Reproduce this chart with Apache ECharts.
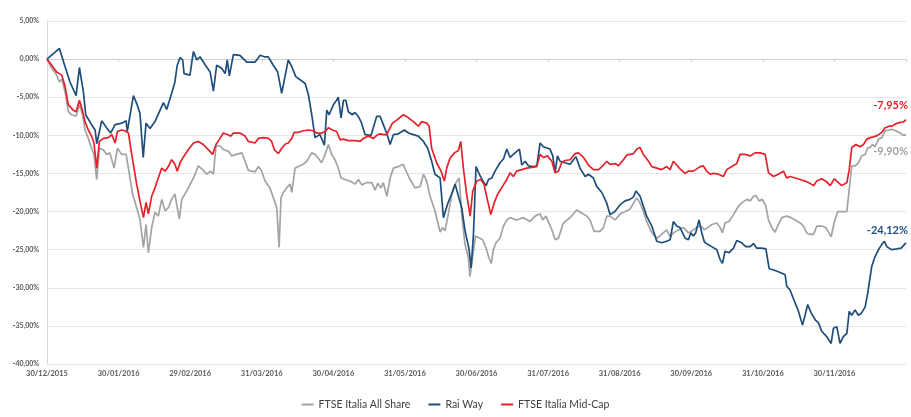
<!DOCTYPE html>
<html>
<head>
<meta charset="utf-8">
<script src="https://cdn.jsdelivr.net/npm/echarts@6/dist/echarts.min.js"></script>
<style>html,body{margin:0;padding:0;background:#fff}#c{width:911px;height:417px}</style>
</head>
<body>
<div id="c"></div>
<script>
// x = days since 30/12/2015, y = cumulative performance in %
const tickLabels = ['30/12/2015','30/01/2016','29/02/2016','31/03/2016','30/04/2016','31/05/2016','30/06/2016','31/07/2016','31/08/2016','30/09/2016','31/10/2016','30/11/2016'];
const seriesNames = ['FTSE Italia All Share','Rai Way','FTSE Italia Mid-Cap'];

const allShareDays = [0,2.0,4.1,5.3,6.3,7.7,9.1,10.5,12.4,13.8,15.2,16.2,17.6,19.0,20.0,21.2,22.3,24.0,25.4,26.8,28.6,30.0,31.8,33.7,35.1,36.5,38.2,39.6,41.1,42.2,43.2,44.6,46.0,47.4,48.9,50.3,51.7,53.1,54.5,55.5,56.4,57.4,58.8,60.2,62.4,64.5,66.3,68.0,69.7,70.9,72.0,73.7,75.4,77.3,78.7,80.8,83.0,84.4,85.8,88.6,90.1,91.5,92.9,95.0,96.9,97.9,98.9,99.7,100.7,102.1,103.6,104.3,105.7,107.1,109.2,110.7,112.8,114.2,115.6,117.0,118.5,119.9,121.3,122.7,124.1,125.3,127.0,129.1,131.3,132.7,134.1,136.2,138.4,139.8,140.9,142.3,143.3,144.8,146.2,147.6,149.7,151.8,153.3,154.7,156.8,159.0,160.4,161.8,163.2,165.3,166.5,167.5,168.5,169.6,171.0,172.4,173.9,175.6,176.7,178.1,179.5,180.2,182.6,185.6,187.1,188.1,189.3,190.2,191.3,193.0,194.5,195.9,197.3,200.1,203.0,205.8,208.0,210.1,211.2,212.6,215.1,216.5,217.9,220.0,222.9,225.7,227.8,230.0,231.4,233.1,235.6,237.1,238.5,239.9,242.1,244.2,246.3,248.4,249.9,251.3,252.7,254.1,255.5,257.7,259.8,261.9,264.0,265.5,266.9,269.0,271.2,273.3,275.4,276.8,278.7,280.1,281.5,283.2,285.4,286.8,287.8,288.9,290.6,292.5,294.6,296.3,298.2,299.6,301.0,302.0,303.4,304.8,306.3,307.4,308.8,310.2,311.6,313.1,315.2,317.0,318.8,320.9,322.3,323.7,325.1,326.6,328.0,330.1,331.8,333.2,334.1,335.5,336.9,338.6,340.8,341.8,342.9,344.3,345.7,347.1,348.6,349.7,350.7,351.7,352.8,354.3,355.7,357.1,358.8,359.9,361.6,363.5,364.9,366];
const allShareVals = [0,-1.2,-2.1,-3.0,-2.6,-4.3,-6.9,-7.3,-7.5,-6.0,-7.3,-9.3,-10.4,-11.7,-12.5,-15.8,-11.7,-11.9,-12.5,-12.3,-14.3,-11.7,-12.5,-12.5,-15.1,-17.7,-19.5,-21.0,-24.7,-21.7,-25.4,-22.1,-20.1,-20.6,-18.4,-19.9,-19.5,-18.4,-17.7,-19.5,-21.0,-18.4,-17.7,-16.9,-15.6,-14.0,-14.5,-15.1,-14.7,-15.1,-11.4,-11.4,-11.9,-12.1,-12.7,-12.5,-12.3,-13.4,-14.6,-14.8,-14.1,-14.7,-16.0,-16.9,-18.6,-19.5,-24.7,-18.2,-17.5,-16.9,-16.4,-17.5,-14.3,-14.1,-13.8,-13.4,-12.3,-12.5,-13.0,-13.6,-12.5,-11.2,-12.5,-13.2,-14.3,-15.6,-15.8,-16.0,-16.4,-15.8,-16.5,-16.2,-16.2,-17.2,-16.3,-16.9,-16.2,-18.0,-15.6,-14.3,-14.1,-13.8,-14.9,-15.8,-16.9,-16.7,-15.1,-16.0,-18.0,-19.9,-21.4,-22.7,-22.1,-22.5,-20.3,-17.9,-16.4,-15.6,-20.3,-24.3,-26.0,-28.5,-23.2,-23.7,-24.8,-25.9,-26.8,-25.0,-24.1,-23.5,-21.9,-21.1,-20.8,-21.1,-20.8,-21.3,-20.6,-20.3,-21.1,-20.6,-22.4,-23.7,-23.5,-21.5,-20.8,-19.8,-20.2,-20.6,-21.1,-22.6,-22.6,-22.1,-20.6,-20.6,-21.1,-20.3,-20.0,-19.7,-18.9,-18.2,-18.9,-20.0,-21.3,-22.8,-23.5,-23.0,-22.4,-23.3,-22.8,-22.4,-22.1,-22.8,-22.4,-22.1,-21.9,-22.4,-22.1,-21.7,-21.5,-22.1,-22.8,-21.5,-21.3,-20.4,-19.3,-18.8,-18.4,-18.6,-18.0,-17.9,-18.6,-18.4,-19.3,-21.1,-22.1,-22.7,-21.7,-20.8,-20.6,-20.8,-21.1,-21.5,-21.9,-22.8,-23.0,-23.0,-21.9,-21.9,-22.1,-22.8,-23.3,-21.3,-20.0,-20.0,-20.0,-17.1,-14.0,-14.0,-13.6,-12.7,-12.5,-11.6,-11.6,-11.2,-11.5,-10.5,-10.3,-9.4,-9.3,-9.2,-9.4,-9.7,-10.0,-9.90];

const raiWayDays = [0,5.3,7.7,9.8,12.4,13.8,15.5,16.5,19.0,20.5,21.2,23.3,25.4,27.1,29.0,31.8,33.7,34.2,36.8,38.2,39.6,41.0,42.2,43.9,46.0,47.9,49.6,51.0,53.1,54.5,55.5,56.7,57.8,58.4,60.9,62.4,63.8,65.2,67.3,69.5,70.9,72.3,74.4,75.9,76.8,77.7,79.4,82.2,85.1,88.6,90.8,92.6,94.3,96.4,98.3,100.0,102.8,104.3,106.0,107.8,110.0,111.4,112.8,114.2,116.3,118.2,119.2,120.2,122.0,123.4,124.1,125.3,126.3,127.3,128.4,130.1,131.2,132.6,133.8,135.5,138.1,139.8,140.5,141.9,143.3,144.7,146.2,147.6,149.7,152.3,154.0,156.1,158.2,160.4,162.2,163.9,165.3,167.5,168.9,170.7,172.4,173.9,175.3,176.7,178.1,179.8,180.7,181.7,182.8,184.2,185.7,187.1,188.1,189.5,190.9,193.0,194.5,195.9,197.3,199.4,201.3,202.3,203.7,205.1,207.2,208.7,210.1,211.5,214.3,215.5,216.5,217.5,218.6,220.7,222.9,224.3,225.4,227.1,229.3,230.7,232.8,234.2,236.4,238.5,239.9,242.0,244.2,246.3,248.4,249.8,251.0,252.7,254.1,255.5,257.7,259.8,261.9,264.0,265.5,266.9,268.3,269.7,271.9,273.3,274.3,275.4,276.4,277.8,279.0,280.1,281.5,283.2,285.4,286.8,287.8,288.9,290.6,292.5,293.9,296.0,297.7,299.6,301.0,302.4,304.5,306.3,307.7,309.9,311.6,313.1,314.5,315.2,316.6,318.0,320.2,321.9,323.0,324.1,325.6,327.3,328.7,330.1,332.2,334.1,335.1,336.5,337.9,339.3,340.8,341.8,342.9,344.3,345.7,347.1,348.6,349.7,351.4,352.8,354.3,355.7,356.8,357.8,358.8,359.9,362.1,363.9,366];
const raiWayVals = [0,1.4,-1.0,-3.0,-4.8,-1.1,-4.3,-7.3,-8.6,-9.3,-11.1,-8.1,-9.0,-9.7,-8.6,-8.4,-8.1,-9.5,-4.8,-5.8,-7.1,-12.9,-8.4,-9.1,-8.2,-6.9,-5.7,-6.6,-4.5,-3.0,-0.8,0.2,-0.1,-1.9,-2.1,1.0,-0.1,0.3,-0.7,-1.7,-4.2,-0.8,-1.2,-1.9,-0.1,-2.2,0.6,0.5,-0.4,-0.4,0.5,0.3,0.3,-0.8,-1.7,-4.5,-0.1,-1.0,-2.3,-2.7,-3.2,-4.7,-7.3,-10.3,-9.9,-11.3,-6.7,-7.3,-6.0,-5.4,-5.0,-7.7,-5.4,-5.4,-6.9,-7.3,-7.0,-7.5,-8.2,-9.9,-10.0,-8.2,-7.5,-7.5,-8.6,-9.7,-11.2,-9.9,-9.8,-9.3,-9.7,-9.9,-10.1,-10.8,-11.7,-13.4,-15.1,-15.6,-20.8,-19.0,-17.7,-16.4,-18.0,-19.5,-22.5,-24.9,-27.4,-23.0,-14.1,-15.1,-16.0,-16.6,-15.8,-15.6,-14.7,-13.6,-13.1,-11.8,-12.9,-12.3,-11.8,-13.9,-13.4,-14.0,-14.1,-14.0,-11.0,-11.5,-11.8,-12.7,-14.9,-12.7,-13.4,-13.6,-13.8,-13.2,-12.8,-14.3,-15.4,-15.1,-15.6,-16.7,-17.5,-18.9,-20.4,-20.0,-19.1,-18.6,-18.4,-18.1,-17.3,-18.0,-19.3,-20.6,-21.9,-23.9,-24.1,-23.9,-23.7,-21.3,-21.9,-22.1,-23.5,-23.7,-22.8,-23.2,-22.8,-21.1,-22.8,-24.0,-24.3,-24.6,-25.0,-26.3,-26.8,-25.2,-25.4,-24.8,-23.8,-24.1,-24.6,-24.6,-24.2,-24.8,-24.8,-24.9,-27.5,-27.7,-27.9,-28.1,-28.3,-29.8,-30.3,-31.4,-33.1,-34.9,-33.6,-32.2,-33.3,-34.2,-34.6,-35.7,-36.4,-37.3,-35.3,-35.1,-37.3,-36.4,-36.0,-33.1,-33.6,-32.9,-33.6,-33.3,-32.5,-30.7,-27.2,-25.9,-25.0,-24.3,-23.9,-24.6,-24.8,-25.0,-24.9,-24.8,-24.12];

const midCapDays = [0,2.0,4.1,6.3,7.7,9.1,11.2,12.4,13.8,14.8,16.2,17.6,19.0,20.0,21.2,22.3,24.0,26.1,27.6,29.0,30.0,31.8,33.2,34.7,36.1,38.2,39.6,41.1,42.2,43.2,44.6,46.0,47.4,48.9,50.3,51.7,53.1,54.5,55.5,56.7,58.4,60.2,62.4,64.5,66.6,68.8,70.6,72.0,73.7,75.1,76.8,78.3,79.4,82.2,84.4,85.8,88.6,90.1,92.2,94.3,95.7,96.9,98.6,100.0,101.7,102.8,104.3,105.4,107.1,109.2,111.4,113.5,114.9,117.0,118.5,119.9,121.6,123.4,124.9,126.3,128.4,131.3,133.4,134.8,136.9,139.1,140.5,141.9,143.3,144.7,145.7,147.2,149.0,151.8,154.0,156.1,158.2,159.7,161.8,162.8,163.9,166.0,167.9,169.3,170.3,171.7,173.6,175.3,176.3,177.4,178.8,180.3,181.4,183.1,184.8,186.2,187.6,189.1,190.5,191.9,193.7,195.9,197.3,198.7,200.1,202.3,204.4,206.5,208.7,210.1,211.5,213.2,215.1,216.5,217.9,219.3,220.7,222.9,225.0,226.4,228.6,230.7,232.8,235.0,237.1,238.5,239.9,242.1,243.5,245.6,247.0,249.9,251.3,252.7,254.1,256.3,257.7,259.8,261.9,264.0,265.5,266.9,268.3,269.7,271.9,273.3,275.4,276.1,278.3,279.6,281.1,282.5,283.9,286.1,288.2,289.6,291.8,293.9,295.3,297.4,299.6,301.7,303.8,306.0,307.4,309.5,311.6,313.8,315.2,316.6,318.8,320.9,323.0,325.1,326.6,328.0,330.1,332.2,333.7,335.5,337.2,338.6,340.8,341.8,342.9,344.6,346.4,347.9,349.3,350.7,352.1,353.9,355.7,357.1,358.8,359.9,361.6,363.5,364.9,366];
const midCapVals = [0,-0.8,-1.7,-2.1,-3.6,-6.0,-6.7,-6.9,-5.4,-6.4,-8.2,-9.3,-10.1,-11.0,-14.3,-10.8,-10.4,-10.3,-9.9,-11.0,-9.5,-9.3,-9.4,-9.7,-12.5,-16.4,-18.6,-20.8,-18.8,-20.3,-18.0,-16.9,-15.6,-14.3,-14.7,-14.1,-13.2,-13.8,-14.7,-13.6,-12.7,-11.9,-11.0,-10.8,-11.2,-11.9,-12.5,-11.2,-10.4,-9.7,-9.9,-10.1,-9.7,-9.7,-10.1,-10.8,-11.0,-10.4,-10.3,-10.4,-10.8,-11.9,-12.4,-11.7,-11.1,-11.0,-10.4,-9.6,-9.6,-9.4,-9.3,-9.4,-9.7,-9.7,-9.5,-9.0,-9.3,-9.5,-10.6,-10.5,-10.7,-10.7,-10.8,-10.4,-10.1,-10.4,-10.0,-9.8,-9.9,-9.9,-9.3,-8.4,-8.0,-7.3,-7.7,-8.2,-8.8,-8.2,-8.4,-8.8,-11.7,-13.6,-14.7,-16.0,-14.3,-13.0,-12.3,-12.0,-10.8,-14.3,-17.7,-20.6,-17.3,-16.0,-15.8,-16.4,-18.4,-20.4,-18.9,-17.8,-16.9,-15.8,-14.9,-15.4,-14.7,-14.5,-14.3,-14.2,-14.1,-12.5,-12.9,-12.7,-13.4,-14.9,-14.7,-13.6,-13.3,-13.2,-12.4,-12.3,-12.9,-13.9,-14.5,-14.5,-13.9,-13.4,-13.8,-13.7,-14.0,-13.2,-12.6,-12.4,-11.8,-11.6,-12.5,-13.4,-14.1,-14.3,-14.5,-14.1,-14.5,-13.4,-13.9,-14.4,-15.0,-14.7,-14.7,-14.5,-14.1,-14.0,-14.7,-15.1,-15.0,-15.1,-15.4,-14.5,-14.1,-13.7,-12.5,-12.5,-12.7,-12.3,-12.3,-12.5,-14.9,-15.4,-15.1,-14.7,-15.6,-15.4,-15.6,-15.8,-16.0,-16.3,-16.6,-16.0,-15.7,-16.1,-16.6,-15.7,-16.2,-16.6,-16.2,-14.5,-11.6,-11.2,-11.5,-11.2,-10.5,-10.3,-10.2,-10.0,-9.6,-9.0,-8.8,-8.8,-8.5,-8.3,-8.25,-7.95];

const colors = ['#a3a3a3', '#1f4e7d', '#e3222b'];
const endLabelPos = [[2, 11], [2, -18], [2, -20]];
const pct = v => v.toFixed(2).replace('.', ',') + '%';
const FONT = 'Lato, "Open Sans", sans-serif';

function mkSeries(name, days, vals, idx) {
  const data = days.map((d, i) => [d, vals[i]]);
  const last = data[data.length - 1];
  return {
    name, type: 'line', data, showSymbol: false, symbol: 'none',
    lineStyle: { width: 1.7, color: colors[idx] }, itemStyle: { color: colors[idx] },
    z: 2 + idx,
    markPoint: {
      symbol: 'circle', symbolSize: 0, silent: true, animation: false,
      data: [{ coord: last, value: last[1] }],
      label: {
        show: true, formatter: p => pct(p.value), position: endLabelPos[idx],
        align: 'right', color: colors[idx], fontWeight: 'bold', fontSize: 11, fontFamily: FONT
      }
    }
  };
}

const chart = echarts.init(document.getElementById('c'), null, { renderer: 'canvas' });
chart.setOption({
  animation: false,
  backgroundColor: '#fff',
  grid: { left: 47, right: 5, top: 21, bottom: 53, containLabel: false },
  legend: {
    bottom: 2, left: 'center', itemWidth: 12, itemHeight: 2, itemGap: 18,
    icon: 'rect',
    textStyle: { fontSize: 10.5, color: '#404040', fontFamily: FONT },
    data: seriesNames
  },
  xAxis: {
    type: 'value', min: 0, max: 366, interval: 30.5,
    axisLine: { show: true, lineStyle: { color: '#d0d0d0' } },
    axisTick: { show: true, length: 3, lineStyle: { color: '#d0d0d0' } },
    splitLine: { show: false },
    axisLabel: {
      fontSize: 7.5, color: '#595959', fontFamily: FONT, fontWeight: 'bold', margin: 6,
      formatter: v => tickLabels[Math.round(v / 30.5)] || ''
    }
  },
  yAxis: {
    type: 'value', min: -40, max: 5, interval: 5,
    axisLine: { show: true, lineStyle: { color: '#d9d9d9' } },
    axisTick: { show: false },
    splitLine: { lineStyle: { color: '#e6e6e6', width: 1 } },
    axisLabel: { fontSize: 7, color: '#595959', fontFamily: FONT, fontWeight: 'bold', margin: 8, formatter: v => pct(v) }
  },
  series: [
    mkSeries(seriesNames[0], allShareDays, allShareVals, 0),
    mkSeries(seriesNames[1], raiWayDays, raiWayVals, 1),
    mkSeries(seriesNames[2], midCapDays, midCapVals, 2)
  ]
});
</script>
</body>
</html>
